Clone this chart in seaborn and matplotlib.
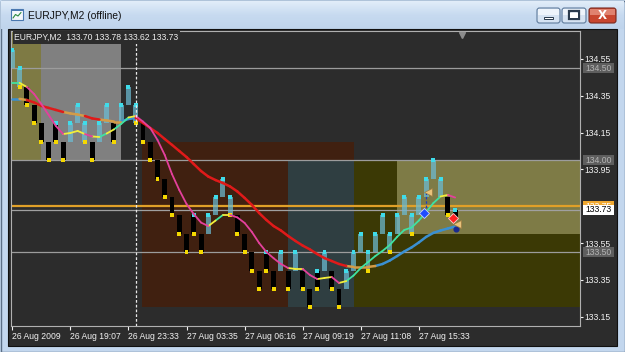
import numpy as np
import pandas as pd
import matplotlib
matplotlib.use("Agg")
import matplotlib.pyplot as plt
import matplotlib.transforms as mtrans
from matplotlib.patches import Rectangle, FancyBboxPatch
from matplotlib.colors import LinearSegmentedColormap
import seaborn as sns

sns.set_style("dark")
plt.rcParams["font.family"] = ["Liberation Sans", "DejaVu Sans"]
plt.rcParams["lines.solid_capstyle"] = "round"

# ---------------- data ----------------
window_title = "EURJPY,M2 (offline)"
symbol_header = "EURJPY,M2  133.70 133.78 133.62 133.73"

bar_low = [134.50, 134.40, 134.30, 134.20, 134.10, 134.00, 134.10, 134.00, 134.10, 134.20,
           134.10, 134.00, 134.10, 134.20, 134.10, 134.20, 134.30, 134.20, 134.10, 134.00,
           133.90, 133.80, 133.70, 133.60, 133.50, 133.60, 133.50, 133.60, 133.70, 133.80,
           133.70, 133.60, 133.50, 133.40, 133.30, 133.40, 133.30, 133.40, 133.30, 133.40,
           133.30, 133.20, 133.30, 133.40, 133.30, 133.20, 133.30, 133.40, 133.50, 133.40,
           133.50, 133.60, 133.50, 133.60, 133.70, 133.60, 133.70, 133.80, 133.90, 133.80,
           133.70, 133.68]
bar_high = [134.60, 134.50, 134.40, 134.30, 134.20, 134.10, 134.20, 134.10, 134.20, 134.30,
            134.20, 134.10, 134.20, 134.30, 134.20, 134.30, 134.40, 134.30, 134.20, 134.10,
            134.00, 133.90, 133.80, 133.70, 133.60, 133.70, 133.60, 133.70, 133.80, 133.90,
            133.80, 133.70, 133.60, 133.50, 133.40, 133.50, 133.40, 133.50, 133.40, 133.50,
            133.40, 133.30, 133.40, 133.50, 133.40, 133.30, 133.40, 133.50, 133.60, 133.50,
            133.60, 133.70, 133.60, 133.70, 133.80, 133.70, 133.80, 133.90, 134.00, 133.90,
            133.80, 133.73]
# U = up box, D = down box (bars 0-61)
bar_dir = ("UU" "DDDDDD" "UUU" "D" "UU" "D" "UUU" "DDDDD" "DDDD" "UUUU" "DDDDDD"
           "U" "D" "U" "DDD" "U" "DD" "UUUUUUU" "UUUUUUU" "DD")
dot_top = ("cc" "...." "c" "." "ccc" "." "cc" "." "ccc" "......." "c" "." "cccc" "...."
           "c" "." "c" "." "c" ".." "cc" ".." "ccccccc" "ccccccc" "." "c")
dot_bottom = ("." "yyyyyyy" ".." "yy" ".." "y" ".." "yyyyy" "yyyyy" "..." "yyyyyyy" "."
              "y" "." "yyy" "." "yy" "..." "y" ".." "y" ".." "y" "...." "y" ".")

slow_ma = [134.333, 134.333, 134.327, 134.314, 134.295, 134.284, 134.273, 134.262, 134.254, 134.248,
           134.240, 134.227, 134.221, 134.216, 134.210, 134.210, 134.224, 134.229, 134.202, 134.175,
           134.148, 134.115, 134.083, 134.050, 134.017, 133.979, 133.941, 133.911, 133.892, 133.876,
           133.857, 133.830, 133.795, 133.757, 133.713, 133.675, 133.642, 133.618, 133.588, 133.561,
           133.536, 133.515, 133.490, 133.468, 133.452, 133.436, 133.425, 133.420, 133.420, 133.420,
           133.425, 133.436, 133.455, 133.479, 133.504, 133.526, 133.553, 133.583, 133.605, 133.618,
           133.629, 133.640]
# segment states: d = falling, f = flat, u = rising (segments 0-60)
slow_state = ("uf" "ddddd" "fff" "dd" "fff" "uu" "dddddddddd" "dddddddddd" "ddddddddd"
              "ffff" "uuuuu" "uuuuuu")

fast_ma = [134.420, 134.420, 134.398, 134.360, 134.305, 134.246, 134.186, 134.142, 134.148, 134.159,
           134.142, 134.129, 134.126, 134.145, 134.167, 134.197, 134.232, 134.240, 134.210, 134.175,
           134.110, 134.028, 133.924, 133.838, 133.762, 133.707, 133.661, 133.642, 133.672, 133.702,
           133.702, 133.689, 133.659, 133.610, 133.550, 133.501, 133.467, 133.436, 133.414, 133.409,
           133.409, 133.376, 133.354, 133.360, 133.365, 133.333, 133.343, 133.373, 133.414, 133.446,
           133.479, 133.507, 133.539, 133.583, 133.621, 133.634, 133.672, 133.718, 133.767, 133.803,
           133.811, 133.797]
fast_state = ("uf" "ddddd" "fff" "d" "f" "u" "f" "uu" "f" "ddddd" "ddddd" "fuf" "dddd" "dddd"
              "ff" "dd" "ff" "d" "f" "uuuuuuu" "uuuuuu" "fd")

date_tick_bars = [0, 8, 16, 24, 32, 40, 48, 56]
date_tick_labels = ["26 Aug 2009", "26 Aug 19:07", "26 Aug 23:33", "27 Aug 03:35",
                    "27 Aug 06:16", "27 Aug 09:19", "27 Aug 11:08", "27 Aug 15:33"]
price_ticks = [134.55, 134.35, 134.15, 133.95, 133.55, 133.35, 133.15]
price_tick_labels = ["134.55", "134.35", "134.15", "133.95", "133.55", "133.35", "133.15"]

level_prices = [134.50, 134.00, 133.50]
level_labels = ["134.50", "134.00", "133.50"]
ask_price, ask_label = 133.75, "133.75"
bid_price, bid_label = 133.73, "133.73"

zone_x0 = [-3.0, 4.0, 17.8, 38.0, 47.0, 53.0]
zone_x1 = [4.0, 15.0, 47.0, 47.0, 82.0, 82.0]
zone_lo = [134.00, 134.00, 133.20, 133.20, 133.20, 133.60]
zone_hi = [135.00, 135.00, 134.10, 134.00, 134.00, 134.00]

separator_bar = 17
entry_bar, entry_price = 56.7, 133.713
exit_bar, exit_price = 60.7, 133.686
arrow_bars = [57.3, 61.25]
arrow_prices = [133.827, 133.653]
link_bar, link_lo, link_hi = 57.0, 133.718, 133.822
stop_bar, stop_price = 61.1, 133.627
shift_bar = 61.9

x_range = (-0.18, 78.2)
y_range = (133.099, 134.702)

# ---------------- styles ----------------
zone_colors = ["#7e7a44", "#808080", "#402010", "#2f3e41", "#3b3905", "#7e7b46"]
bg_dark = "#2c2c2c"
slow_pal = {"d": "#e01a1a", "f": "#d39c48", "u": "#3a90d2"}
fast_pal = {"d": "#e4409c", "f": "#f2ee3a", "u": "#3fe2a2"}

# ---------------- figure / window chrome ----------------
fig = plt.figure(figsize=(6.25, 3.52), dpi=100)
fig.patch.set_facecolor("#c4d8ee")
bg = fig.add_axes([0, 0, 1, 1])
bg.set_xlim(0, 625)
bg.set_ylim(352, 0)
bg.axis("off")
bg.add_patch(Rectangle((0.5, 0.5), 624, 351, fc="#c3d7ee", ec="#5c6f86", lw=1))
tcm = LinearSegmentedColormap.from_list("t", ["#e2edf9", "#c7daf0", "#bfd4ec"])
bg.imshow(np.linspace(0, 1, 40).reshape(-1, 1), extent=[1, 624, 29, 1], cmap=tcm,
          aspect="auto", zorder=1)
bg.add_patch(Rectangle((8, 29), 609, 317, fc=bg_dark, ec="#101010", lw=0.8, zorder=2))
# icon
bg.add_patch(Rectangle((11, 8.5), 12, 11, fc="#f4f7fb", ec="#4a78b0", lw=0.8, zorder=3))
bg.add_patch(Rectangle((11, 8.5), 12, 2.5, fc="#4a78b0", ec="none", zorder=3))
bg.plot([13, 15.5, 18, 21], [18, 14.5, 16, 12.5], color="#2b8a3e", lw=0.8, zorder=4)
bg.text(28, 16, window_title, fontsize=7.4, color="#101010", va="center", ha="left",
        zorder=4, family=["Liberation Sans", "DejaVu Sans"])
# buttons
for x0, w in [(537, 23), (562, 24)]:
    bg.add_patch(FancyBboxPatch((x0, 8), w, 15, boxstyle="round,pad=0,rounding_size=2.5",
                                fc="#d6e3f2", ec="#5f7b9c", lw=0.8, zorder=3))
    bg.add_patch(Rectangle((x0 + 1, 8.5), w - 2, 6.5, fc="#eef4fb", ec="none", zorder=3))
bg.add_patch(FancyBboxPatch((589, 8), 27, 15, boxstyle="round,pad=0,rounding_size=2.5",
                            fc="#c8462f", ec="#7a2a20", lw=0.8, zorder=3))
bg.add_patch(Rectangle((590, 8.5), 25, 6.5, fc="#e0826f", ec="none", zorder=3))
bg.add_patch(Rectangle((544, 16.5), 9, 2.5, fc="#ffffff", ec="#2a3a4c", lw=0.7, zorder=4))
bg.add_patch(Rectangle((569, 11), 10, 8, fc="none", ec="#2a3a4c", lw=1.6, zorder=4))
bg.add_patch(Rectangle((570, 12.5), 8, 5.5, fc="#ffffff", ec="none", zorder=4))
bg.text(602.5, 15.8, "X", fontsize=8.5, color="white", fontweight="bold",
        ha="center", va="center", zorder=5, family=["DejaVu Sans"])

# ---------------- chart axes ----------------
ax = fig.add_axes([11 / 625, 26 / 352, 569 / 625, 295 / 352])
ax.set_facecolor(bg_dark)
ax.grid(False)
ax.set_xlim(*x_range)
ax.set_ylim(*y_range)
for s in ax.spines.values():
    s.set_color("#b0b0b0")
    s.set_linewidth(0.8)

# zones
for x0, x1, zlo, zhi, c in zip(zone_x0, zone_x1, zone_lo, zone_hi, zone_colors):
    ax.add_patch(Rectangle((x0, zlo), x1 - x0, zhi - zlo, fc=c, ec="none", zorder=1))

# level lines
for p in level_prices:
    ax.axhline(p, color="#9c9c9c", lw=0.9, zorder=2)
ax.axhline(ask_price, color="#e0a028", lw=1.6, zorder=2)
ax.axhline(bid_price, color="#a0a0a0", lw=0.9, zorder=2)

# bars
n = min(len(bar_low), len(bar_high), len(bar_dir), len(dot_top), len(dot_bottom))
idx = np.arange(n)
lo = np.array(bar_low)
hi = np.array(bar_high)
for i in idx:
    up = bar_dir[i] == "U"
    ax.bar(i, hi[i] - lo[i], bottom=lo[i], width=0.68,
           color="#6cbcd4" if up else "#000000", alpha=0.72 if up else 1.0,
           linewidth=0, zorder=3)

# dots
dots = []
for i in idx:
    if dot_top[i] == "c":
        dots.append((i, hi[i], "c"))
    if dot_bottom[i] == "y":
        dots.append((i, lo[i], "y"))
dots = pd.DataFrame(dots, columns=["x", "y", "kind"])
sns.scatterplot(data=dots, x="x", y="y", hue="kind", palette={"c": "#3fdcea", "y": "#f5d800"},
                marker="s", s=8, linewidth=0, legend=False, ax=ax, zorder=4)


def segments(values, states):
    rows = []
    for k, st in enumerate(states[:len(values) - 1]):
        rows.append((k, values[k], k, st))
        rows.append((k + 1, values[k + 1], k, st))
    return pd.DataFrame(rows, columns=["x", "y", "seg", "state"])


sns.lineplot(data=segments(slow_ma, slow_state), x="x", y="y", units="seg", estimator=None,
             hue="state", palette=slow_pal, sort=False, legend=False, lw=1.8, ax=ax, zorder=6)
sns.lineplot(data=segments(fast_ma, fast_state), x="x", y="y", units="seg", estimator=None,
             hue="state", palette=fast_pal, sort=False, legend=False, lw=1.3, ax=ax, zorder=7)

# separator
ax.axvline(separator_bar, color="#e8e8e8", lw=0.9, ls=(0, (2.2, 1.6)), zorder=8)

# trade markers
ax.plot([link_bar, link_bar], [link_lo, link_hi], color="#1a3cc8", lw=0.9,
        ls=(0, (2, 1.5)), zorder=9)
ax.plot([entry_bar], [entry_price], marker="D", ms=4.8, color="#1f4cff", mec="#c8d4ff",
        mew=0.6, zorder=10)
ax.plot([exit_bar], [exit_price], marker="D", ms=4.8, color="#ff2020", mec="#ffd0d0",
        mew=0.6, zorder=10)
ax.plot([stop_bar], [stop_price], marker="o", ms=3.4, color="#1a2a90", zorder=9)
ax.plot(arrow_bars, arrow_prices, ls="none", marker="<", ms=6.2, color="#e9c27a",
        mec="#9a7a40", mew=0.5, zorder=10)

# chart shift marker
shift_tr = mtrans.blended_transform_factory(ax.transData, ax.transAxes)
ax.plot([shift_bar], [0.985], marker="v", ms=4, color="#8c8c8c", transform=shift_tr,
        clip_on=False, zorder=11)

# header
ax.text(0.006, 0.978, symbol_header, transform=ax.transAxes, fontsize=6.2, color="#eeeeee",
        va="center", ha="left", zorder=12,
        bbox=dict(fc=bg_dark, ec="none", pad=1.2))

# axes ticks
ax.set_xlabel("")
ax.set_ylabel("")
ax.set_xticks(date_tick_bars)
ax.set_xticklabels(date_tick_labels)
for lab in ax.get_xticklabels():
    lab.set_ha("left")
ax.set_yticks(price_ticks)
ax.set_yticklabels(price_tick_labels)
ax.tick_params(axis="x", bottom=True, length=3, width=0.8, pad=1.6, labelsize=6.2,
               colors="#f2f2f2")
ax.tick_params(axis="y", left=False, right=True, labelleft=False, labelright=True,
               length=1.8, width=0.8, pad=1.4, labelsize=6.2, colors="#f2f2f2")

# price boxes on the axis
tr = mtrans.blended_transform_factory(ax.transAxes, ax.transData)
bw, bh = 0.0545, 0.054


def price_box(price, label, fc, tc):
    ax.add_patch(Rectangle((1.0053, price - bh / 2), bw, bh, transform=tr, fc=fc, ec="none",
                           clip_on=False, zorder=20))
    ax.text(1.0092, price, label, transform=tr, fontsize=6.2, color=tc, va="center",
            ha="left", clip_on=False, zorder=21)


for p, l in zip(level_prices, level_labels):
    price_box(p, l, "#5e5e5e", "#b4b4b4")
price_box(ask_price, ask_label, "#f0a830", "#ffffff")
price_box(bid_price, bid_label, "#ffffff", "#000000")

fig.savefig("out.png", dpi=100, facecolor=fig.get_facecolor())
